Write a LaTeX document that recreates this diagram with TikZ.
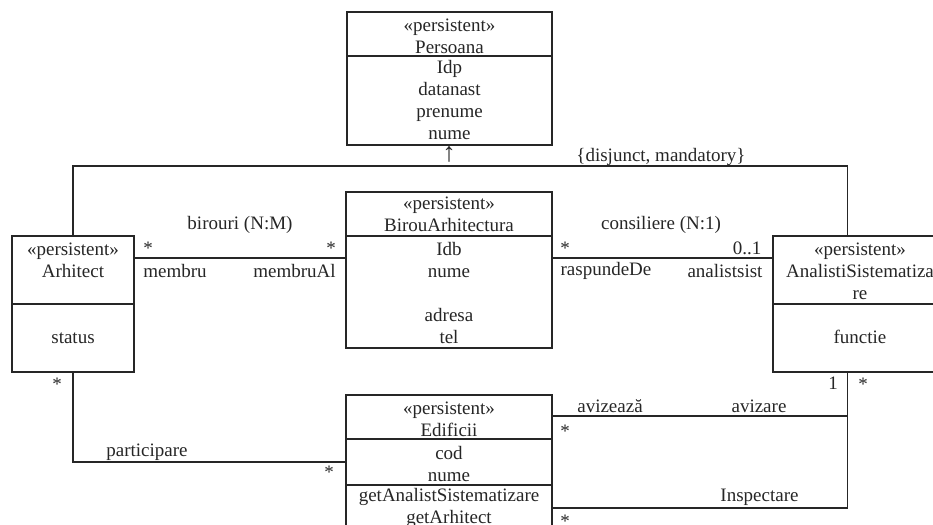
\documentclass[tikz,border=0pt]{standalone}
\usepackage{fontspec}
\setmainfont{Liberation Serif}
\tikzset{
  cls/.style={draw=black!85, line width=1.2pt, fill=white, inner sep=0pt},
  txt/.style={font=\fontsize{19}{22}\selectfont, text=black!85, align=center, inner sep=0pt},
  lnk/.style={draw=black!85, line width=1.2pt},
}
\begin{document}
\begin{tikzpicture}[x=1pt, y=-1pt]
	\useasboundingbox (0,0) rectangle (933,524);
	% 1. class boxes
	\node[cls, minimum width=205pt, minimum height=133pt] (pers) at (449.5,78.5) {};
	\node[cls, minimum width=206pt, minimum height=156pt] (birou) at (449,270) {};
	\node[cls, minimum width=122pt, minimum height=136pt] (arh) at (73,304) {};
	\node[cls, minimum width=174pt, minimum height=136pt] (anal) at (860,304) {};
	\node[cls, minimum width=206pt, minimum height=150pt] (edif) at (449,470) {};
	
	% 2. compartment lines
	\draw[lnk] (pers.west |- 0,56) -- (pers.east |- 0,56);
	\draw[lnk] (birou.west |- 0,236) -- (birou.east |- 0,236);
	\draw[lnk] (arh.west |- 0,304) -- (arh.east |- 0,304);
	\draw[lnk] (anal.west |- 0,304) -- (anal.east |- 0,304);
	\draw[lnk] (edif.west |- 0,439) -- (edif.east |- 0,439);
	\draw[lnk] (edif.west |- 0,485) -- (edif.east |- 0,485);
	
	% 3. class texts
	\node[txt] (persH) at (449.5,36) {«persistent»\\Persoana};
	\node[txt] (persA) at (449.5,100.5) {Idp\\datanast\\prenume\\nume};
	\node[txt] (birouH) at (449,214) {«persistent»\\BirouArhitectura};
	\node[txt] (birouA) at (449,292.5) {Idb\\nume\\[22pt]adresa\\tel};
	\node[txt] (arhH) at (73,260) {«persistent»\\Arhitect};
	\node[txt] (arhA) at (73,338) {status};
	\node[txt] (analH) at (860,271) {«persistent»\\AnalistiSistematiza\\re};
	\node[txt] (analA) at (860,337) {functie};
	\node[txt] (edifH) at (449,419) {«persistent»\\Edificii};
	\node[txt] (edifA) at (449,463.5) {cod\\nume};
	\node[txt] (edifO) at (449,507.5) {getAnalistSistematizare\\getArhitect};
	
	% 4. connector points
	\coordinate (bus) at (449,166);
	\coordinate (analT) at ([xshift=75pt]anal.north west);
	\coordinate (analB) at ([xshift=75pt]anal.south west);
	\coordinate (birouL) at ([yshift=12pt]birou.west);
	\coordinate (birouR) at ([yshift=12pt]birou.east);
	\coordinate (edifL) at ([yshift=8pt]edif.west);
	\coordinate (edifR1) at ([yshift=54pt]edif.east);
	\coordinate (edifR2) at ([yshift=-38pt]edif.east);
	
	% 5. connectors
	\draw[lnk] (arh.north) |- (bus) -| (analT);
	\draw[lnk] (birouL -| arh.east) -- (birouL);
	\draw[lnk] (birouR) -- (birouR -| anal.west);
	\draw[lnk] (arh.south) |- (edifL);
	\draw[lnk] (edifR1) -| (analB);
	\draw[lnk] (edifR2) -| (analB);
	
	% 6. labels
	\node[txt, font=\fontsize{27}{27}\selectfont] (gen) at (449,154) {↑};
	\node[txt] (genC) at (661,157) {\{disjunct, mandatory\}};
	\node[txt] (birN) at (240,225) {birouri (N:M)};
	\node[txt] (birM1) at (148,248) {*};
	\node[txt] (birM2) at (331,248) {*};
	\node[txt] (birR1) at (175,271) {membru};
	\node[txt] (birR2) at (294.5,271) {membruAl};
	\node[txt] (conN) at (661,225) {consiliere (N:1)};
	\node[txt] (conM1) at (565,248) {*};
	\node[txt] (conM2) at (747,248) {0..1};
	\node[txt] (conR1) at (606,271) {raspundeDe};
	\node[txt] (conR2) at (725,271) {analistsist};
	\node[txt] (parM1) at (57,384) {*};
	\node[txt] (parN) at (147,452) {participare};
	\node[txt] (parM2) at (329,472) {*};
	\node[txt] (avzM1) at (833,383) {1};
	\node[txt] (insM1) at (863,384) {*};
	\node[txt] (avzR1) at (610,406) {avizează};
	\node[txt] (avzR2) at (759,406) {avizare};
	\node[txt] (avzM2) at (565,431) {*};
	\node[txt] (insN) at (759.5,497) {Inspectare};
	\node[txt] (insM2) at (565,521) {*};
	
\end{tikzpicture}
\end{document}
